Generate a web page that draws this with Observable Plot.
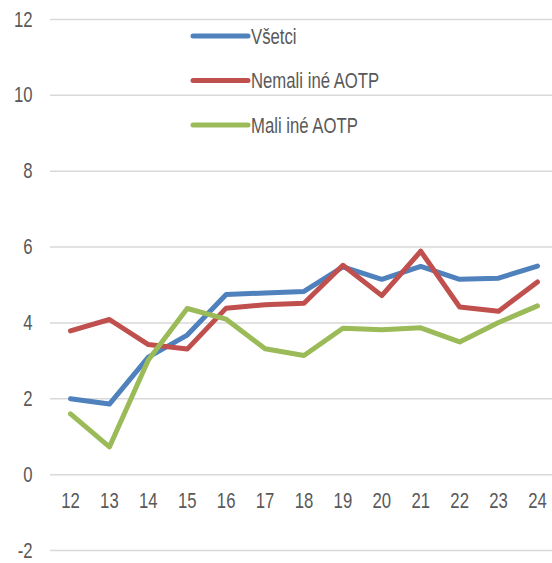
<!DOCTYPE html>
<html>
<head>
<meta charset="utf-8">
<script src="https://cdn.jsdelivr.net/npm/d3@7"></script>
<script src="https://cdn.jsdelivr.net/npm/@observablehq/plot@0.6"></script>
<style>
  html, body { margin: 0; padding: 0; background: #fff; }
  #chart { width: 552px; height: 563px; }
</style>
</head>
<body>
<div id="chart"></div>
<script>
const years = [12, 13, 14, 15, 16, 17, 18, 19, 20, 21, 22, 23, 24];
const vsetci = [2.0, 1.86, 3.1, 3.68, 4.75, 4.79, 4.83, 5.48, 5.15, 5.49, 5.15, 5.18, 5.5];
const nemali = [3.79, 4.09, 3.43, 3.31, 4.39, 4.48, 4.52, 5.52, 4.72, 5.89, 4.42, 4.31, 5.08];
const mali = [1.6, 0.73, 3.02, 4.38, 4.1, 3.32, 3.14, 3.86, 3.82, 3.87, 3.5, 4.01, 4.45];
const seriesNames = ["Všetci", "Nemali iné AOTP", "Mali iné AOTP"];
const seriesColors = ["#4F81BD", "#C0504D", "#9BBB59"];
const yTicks = [-2, 0, 2, 4, 6, 8, 10, 12];

const seriesValues = [vsetci, nemali, mali];
const data = seriesNames.flatMap((s, i) =>
  years.map((yr, j) => ({ year: yr, value: seriesValues[i][j], series: s }))
);

const textColor = "#595959";
const fontSize = 22;

const plot = Plot.plot({
  width: 552,
  height: 563,
  marginLeft: 50,
  marginRight: 0,
  marginTop: 19,
  marginBottom: 13,
  x: { domain: [11.486, 24.386], axis: null },
  y: { domain: [-2, 12], axis: null },
  color: { domain: seriesNames, range: seriesColors },
  style: {
    fontFamily: "'Liberation Sans', Arial, sans-serif",
    fontSize: fontSize + "px",
    color: textColor,
    background: "white"
  },
  marks: [
    Plot.ruleY(yTicks, { stroke: "#D9D9D9", strokeWidth: 1.5 }),
    Plot.axisY({ ticks: yTicks, tickSize: 0, tickPadding: 18, anchor: "left", label: null, fontSize: fontSize, fill: textColor, tickFormat: d => String(d) }),
    Plot.text(years, { x: d => d, y: 0, dy: 26, fill: textColor, fontSize: fontSize, text: d => String(d) }),
    Plot.line(data, {
      x: "year", y: "value", z: "series", stroke: "series",
      strokeWidth: 5, strokeLinejoin: "round", strokeLinecap: "round"
    })
  ]
});

document.getElementById("chart").appendChild(plot);

// Legend inside the plot area
const svg = d3.select(plot);
const legend = svg.append("g").attr("class", "legend").attr("text-anchor", "start");
const legendY = [36, 80.5, 125];
seriesNames.forEach((name, i) => {
  legend.append("line")
    .attr("x1", 193).attr("x2", 248)
    .attr("y1", legendY[i]).attr("y2", legendY[i])
    .attr("stroke", seriesColors[i])
    .attr("stroke-width", 5)
    .attr("stroke-linecap", "round");
  legend.append("text")
    .attr("x", 251).attr("y", legendY[i])
    .attr("dy", "0.36em")
    .attr("text-anchor", "start")
    .attr("fill", textColor)
    .attr("font-size", fontSize)
    .attr("font-family", "'Liberation Sans', Arial, sans-serif")
    .text(name);
});

// Narrow the glyphs horizontally to mimic the reference's condensed text
plot.querySelectorAll("text").forEach(t => {
  const w = t.getComputedTextLength();
  if (w > 0) {
    t.setAttribute("textLength", (w * 0.76).toFixed(2));
    t.setAttribute("lengthAdjust", "spacingAndGlyphs");
  }
});
</script>
</body>
</html>
